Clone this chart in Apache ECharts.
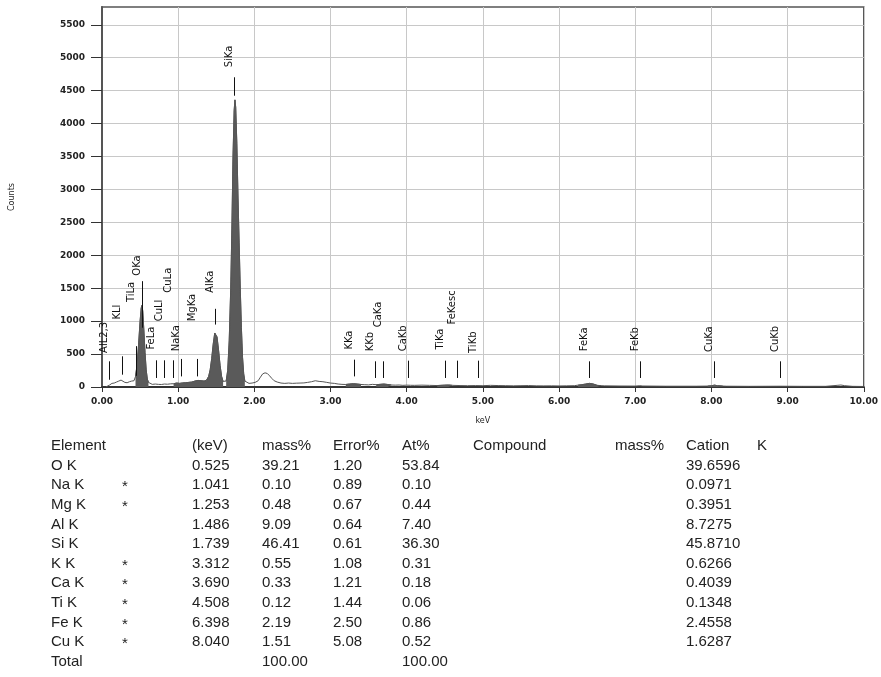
<!DOCTYPE html>
<html>
<head>
<meta charset="utf-8">
<script src="https://cdn.jsdelivr.net/npm/echarts@6/dist/echarts.min.js"></script>
<style>
html,body{margin:0;padding:0;background:#fff;}
#chart{width:881px;height:677px;}
</style>
</head>
<body>
<div id="chart"></div>
<script>
// ---------- spectrum (keV, counts) ----------
var specKeV = [0.05,0.07,0.10,0.13,0.16,0.19,0.22,0.25,0.27,0.30,0.33,0.36,0.39,0.42,0.44,0.46,0.48,0.50,0.515,0.525,0.535,0.55,0.565,0.58,0.595,0.61,0.63,0.66,0.70,0.74,0.78,0.82,0.86,0.90,0.94,0.98,1.02,1.06,1.10,1.14,1.18,1.22,1.26,1.30,1.34,1.37,1.40,1.42,1.44,1.46,1.48,1.495,1.51,1.53,1.55,1.57,1.59,1.61,1.63,1.65,1.67,1.69,1.705,1.72,1.735,1.745,1.755,1.77,1.785,1.80,1.815,1.83,1.845,1.86,1.875,1.89,1.93,1.97,2.01,2.05,2.08,2.11,2.14,2.17,2.20,2.23,2.26,2.30,2.35,2.40,2.45,2.50,2.55,2.60,2.65,2.70,2.75,2.80,2.85,2.90,2.95,3.00,3.05,3.10,3.15,3.20,3.25,3.30,3.35,3.40,3.45,3.50,3.55,3.60,3.65,3.70,3.75,3.80,3.85,3.90,3.95,4.00,4.05,4.10,4.20,4.30,4.40,4.50,4.55,4.60,4.70,4.80,4.90,5.00,5.10,5.20,5.30,5.40,5.50,5.60,5.70,5.80,5.90,6.00,6.10,6.20,6.25,6.30,6.35,6.40,6.45,6.50,6.55,6.60,6.80,7.00,7.06,7.10,7.40,7.80,7.95,8.00,8.04,8.08,8.15,8.20,8.50,8.90,9.20,9.50,9.65,9.70,9.75,9.85,10.00];
var specCounts = [0,5,30,55,60,75,90,105,95,70,65,80,90,95,160,330,640,1000,1200,1240,1150,850,520,260,120,70,45,40,45,40,38,45,42,48,50,60,55,62,65,70,75,90,100,95,90,100,160,260,430,650,820,840,760,560,330,160,85,60,90,250,700,1500,2400,3500,4200,4360,4250,3700,2900,2200,1500,900,450,200,90,65,55,60,70,95,150,200,215,205,170,130,95,75,60,55,60,55,58,60,62,70,80,95,85,80,70,60,55,45,40,38,45,50,45,38,35,32,40,35,40,45,38,30,28,30,25,28,26,25,28,25,22,28,30,25,22,20,22,20,25,22,20,18,20,22,18,17,18,16,18,20,28,35,45,55,45,25,20,18,15,14,20,15,12,12,14,18,28,20,14,12,10,12,10,10,25,30,20,10,8];
// filled (ROI) windows, keV
var roiStart = [0.44,0.94,1.37,1.63,3.20,3.60,4.40,6.25,7.95];
var roiEnd   = [0.61,1.37,1.59,1.875,3.40,3.80,4.60,6.55,8.15];

// ---------- line markers ----------
var markerNames = ['AlL2,3','KLl','TiLa','OKa','FeLa','CuLl','CuLa','NaKa','MgKa','AlKa','SiKa','KKa','KKb','CaKa','CaKb','TiKa','FeKesc','TiKb','FeKa','FeKb','CuKa','CuKb'];
var markerKeV   = [0.095,0.26,0.45,0.525,0.705,0.81,0.93,1.041,1.253,1.486,1.739,3.312,3.589,3.690,4.012,4.508,4.66,4.931,6.398,7.057,8.040,8.904];
var markerLow   = [110,187,170,900,137,137,137,161,161,948,4423,161,137,137,137,137,137,137,137,137,137,137];
var markerHigh  = [390,466,620,1607,405,405,405,426,426,1187,4703,415,390,390,400,400,400,400,390,390,390,390];
var labelBase   = [517,1024,1290,1690,568,998,1431,542,998,1431,4855,568,542,907,542,568,948,517,542,542,530,530];

// ---------- axis ticks ----------
var yTicks = [0,500,1000,1500,2000,2500,3000,3500,4000,4500,5000,5500];

// ---------- quantitative table ----------
var tableHeader = ['Element','(keV)','mass%','Error%','At%','Compound','mass%','Cation','K'];
var elements = ['O K','Na K','Mg K','Al K','Si K','K K','Ca K','Ti K','Fe K','Cu K'];
var flags    = ['','*','*','','','*','*','*','*','*'];
var lineKeV  = ['0.525','1.041','1.253','1.486','1.739','3.312','3.690','4.508','6.398','8.040'];
var massPct  = [39.21,0.10,0.48,9.09,46.41,0.55,0.33,0.12,2.19,1.51];
var errorPct = [1.20,0.89,0.67,0.64,0.61,1.08,1.21,1.44,2.50,5.08];
var atPct    = [53.84,0.10,0.44,7.40,36.30,0.31,0.18,0.06,0.86,0.52];
var cation   = [39.6596,0.0971,0.3951,8.7275,45.8710,0.6266,0.4039,0.1348,2.4558,1.6287];
var totalMass = 100.00, totalAt = 100.00;

// ---------- build ----------
var specData = specKeV.map(function(k,i){ return [k, specCounts[i]]; });
function inRoi(k){
  for (var j=0;j<roiStart.length;j++){ if (k>=roiStart[j]-1e-9 && k<=roiEnd[j]+1e-9) return true; }
  return false;
}
var fillData = specKeV.map(function(k,i){ return [k, inRoi(k) ? specCounts[i] : '-']; });
var markerData = markerKeV.map(function(k,i){ return [k, markerLow[i], markerHigh[i], labelBase[i]]; });

var TF = '15px "Liberation Sans", Arial, sans-serif';
var colX = [51,192,262,333,402,473,615,686,757];
var rowY0 = 446, rowDy = 19.6;
var gfx = [];
function addText(t, x, y, align){
  gfx.push({type:'text', x:x, y:y, silent:true,
    style:{text:t, font:TF, fill:'#222', align:align||'left', verticalAlign:'middle'}});
}
tableHeader.forEach(function(h,i){ addText(h, colX[i], rowY0); });
elements.forEach(function(e,i){
  var y = rowY0 + rowDy*(i+1);
  addText(e, colX[0], y);
  if (flags[i]) addText(flags[i], 125, y+2, 'center');
  addText(lineKeV[i], colX[1], y);
  addText(massPct[i].toFixed(2), colX[2], y);
  addText(errorPct[i].toFixed(2), colX[3], y);
  addText(atPct[i].toFixed(2), colX[4], y);
  addText(cation[i].toFixed(4), colX[7], y);
});
var yT = rowY0 + rowDy*(elements.length+1);
addText('Total', colX[0], yT);
addText(totalMass.toFixed(2), colX[2], yT);
addText(totalAt.toFixed(2), colX[4], yT);

var AF = '"DejaVu Sans", Verdana, sans-serif';
var chart = echarts.init(document.getElementById('chart'), null, {renderer:'canvas'});
chart.setOption({
  animation:false,
  backgroundColor:'#fff',
  grid:{left:100, right:8, top:7, bottom:290, show:true, borderColor:'#555', borderWidth:1.5, backgroundColor:'transparent'},
  xAxis:{
    type:'value', min:0, max:10, interval:1,
    name:'keV', nameLocation:'middle', nameGap:30,
    nameTextStyle:{fontSize:8, fontFamily:AF, color:'#222'},
    axisLine:{show:true, lineStyle:{color:'#333', width:2}},
    axisTick:{show:true, length:5, lineStyle:{color:'#333'}},
    axisLabel:{fontSize:9, fontWeight:'bold', fontFamily:AF, color:'#222', margin:10,
      formatter:function(v){ return v.toFixed(2); }},
    splitLine:{show:true, lineStyle:{color:'#c8c8c8', width:1}}
  },
  yAxis:{
    type:'value', min:0, max:5770, interval:500,
    name:'Counts', nameLocation:'middle', nameRotate:90, nameGap:86,
    nameTextStyle:{fontSize:8, fontFamily:AF, color:'#222'},
    axisLine:{show:true, lineStyle:{color:'#555', width:2}},
    axisTick:{show:true, length:11, customValues:yTicks, lineStyle:{color:'#333'}},
    axisLabel:{fontSize:9, fontWeight:'bold', fontFamily:AF, color:'#222', margin:17,
      customValues:yTicks, formatter:function(v){ return String(v); }},
    splitLine:{show:true, lineStyle:{color:'#c8c8c8', width:1}}
  },
  series:[
    {type:'line', data:fillData, showSymbol:false, connectNulls:false, z:2,
     lineStyle:{color:'#5a5a5a', width:1}, areaStyle:{color:'#5a5a5a', opacity:1}},
    {type:'line', data:specData, showSymbol:false, z:3,
     lineStyle:{color:'#555', width:1}},
    {type:'custom', data:markerData, z:4, silent:true,
     encode:{x:0, y:[1,2,3]},
     renderItem:function(params, api){
       var k = api.value(0);
       var p1 = api.coord([k, api.value(1)]);
       var p2 = api.coord([k, api.value(2)]);
       var p3 = api.coord([k, api.value(3)]);
       var x = Math.round(p1[0]) + 0.5;
       return {type:'group', children:[
         {type:'line', shape:{x1:x, y1:p1[1], x2:x, y2:p2[1]}, style:{stroke:'#111', lineWidth:1}},
         {type:'text', x:x - 0.5, y:p3[1], rotation:Math.PI/2,
          style:{text:markerNames[params.dataIndex], font:'10px ' + AF, fill:'#111', align:'left', verticalAlign:'bottom'}}
       ]};
     }}
  ],
  graphic:{elements:gfx}
});
</script>
</body>
</html>
